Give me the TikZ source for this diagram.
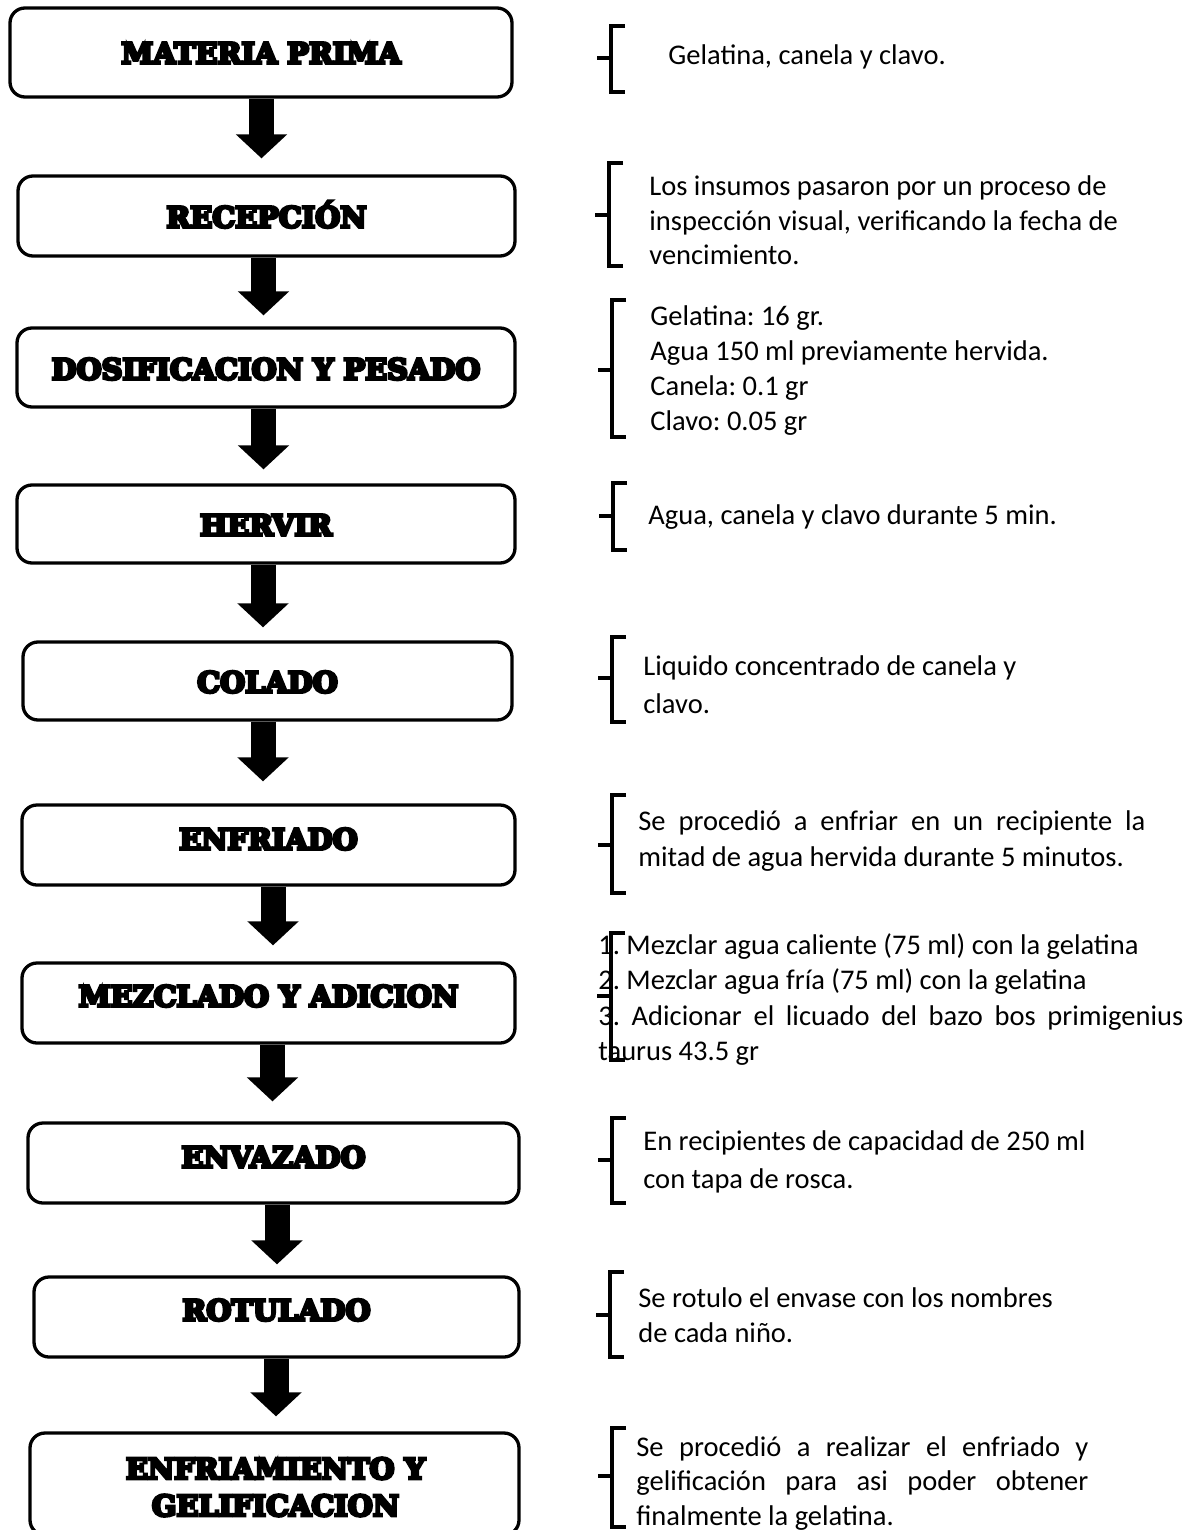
\documentclass[tikz,border=0pt]{standalone}
\usepackage{fontspec}
\setmainfont{Carlito}
\newfontfamily\stepfont{DejaVu Serif}[BoldFeatures={FakeBold=10}]
\usetikzlibrary{calc,arrows.meta}

% Coordinates are given in pixels of a 1200 x 1530 page, y growing downwards.
\tikzset{
  stepbox/.style={draw, line width=1.65pt, rounded corners=7.5pt, inner sep=0pt},
  steptitle/.style={inner sep=0pt, text height=10.5pt, text depth=0pt,
    font=\stepfont\bfseries\fontsize{14.4}{18.5}\selectfont},
  note/.style={anchor=base west, inner sep=0pt},
  brace/.style={line width=2pt, line cap=butt, line join=miter},
  flowarrow/.style={line width=12.5pt, -{Triangle[width=25pt,length=12pt]}}
}

% text block: baselineskip, lines
\newcommand\notelines[2]{\parbox[t]{300pt}{\fontsize{14.25}{#1}\selectfont\frenchspacing\raggedright #2}}
% square brace with a side tick: x, top, bottom, tick height
\newcommand\notebrace[4]{%
  \draw[brace] (#1+14,#2) -- (#1,#2) -- (#1,#3) -- (#1+14,#3);
  \draw[brace] (#1-14,#4) -- (#1,#4);}
% block arrow between two steps: upper, lower, x offset, gap above lower box
\newcommand\steparrow[4]{%
  \coordinate (s) at ($(#1.south)+(#3,0)$);
  \coordinate (e) at ($(#2.north)+(0,-#4)$);
  \draw[flowarrow] (s) -- (s |- e);}

\begin{document}
\begin{tikzpicture}[x=0.5pt,y=-0.5pt]
\fill[white] (0,0) rectangle (1200,1530);
\useasboundingbox (0,0) rectangle (1200,1530);

% process steps
\node[stepbox, minimum width=251pt, minimum height=44.5pt] (n1) at (261,52.5) {};
\node[stepbox, minimum width=248.5pt, minimum height=40pt] (n2) at (266.5,216) {};
\node[stepbox, minimum width=249pt, minimum height=39.5pt] (n3) at (266,367.5) {};
\node[stepbox, minimum width=249pt, minimum height=39pt] (n4) at (266,524) {};
\node[stepbox, minimum width=244.5pt, minimum height=39pt] (n5) at (267.5,681) {};
\node[stepbox, minimum width=246.5pt, minimum height=40pt] (n6) at (268.5,845) {};
\node[stepbox, minimum width=246.5pt, minimum height=40pt] (n7) at (268.5,1003) {};
\node[stepbox, minimum width=245.5pt, minimum height=40pt] (n8) at (273.5,1163) {};
\node[stepbox, minimum width=242.5pt, minimum height=40pt] (n9) at (276.5,1317) {};
\node[stepbox, minimum width=244.5pt, minimum height=51pt] (n10) at (274.5,1484) {};

\node[steptitle] (t1) at ($(n1.center)+(0,0.5)$) {MATERIA PRIMA};
\node[steptitle] (t2) at ($(n2.center)+(0,1)$) {RECEPCIÓN};
\node[steptitle] (t3) at ($(n3.center)+(0,1.5)$) {DOSIFICACION Y PESADO};
\node[steptitle] (t4) at ($(n4.center)+(0,1)$) {HERVIR};
\node[steptitle] (t5) at ($(n5.center)+(0,1)$) {COLADO};
\node[steptitle] (t6) at ($(n6.center)+(0,-6)$) {ENFRIADO};
\node[steptitle] (t7) at ($(n7.center)+(0,-7)$) {MEZCLADO Y ADICION};
\node[steptitle] (t8) at ($(n8.center)+(0,-6)$) {ENVAZADO};
\node[steptitle] (t9) at ($(n9.center)+(0,-7)$) {ROTULADO};
\node[steptitle, align=center, text height=, text depth=] (t10) at (275.5,1487) {ENFRIAMIENTO Y\\GELIFICACION};

% flow arrows
\steparrow{n1}{n2}{0.5}{16}
\steparrow{n2}{n3}{-3}{11}
\steparrow{n3}{n4}{-2.5}{14}
\steparrow{n4}{n5}{-3}{13}
\steparrow{n5}{n6}{-4.5}{22}
\steparrow{n6}{n7}{4.5}{16}
\steparrow{n7}{n8}{4}{20}
\steparrow{n8}{n9}{3.5}{11}
\steparrow{n9}{n10}{-0.5}{15}

% notes on each step
\notebrace{611}{26}{92}{58}
\node[note] (d1) at (668,65) {\notelines{17.5pt}{Gelatina, canela y clavo.}};

\notebrace{609}{163}{266}{215}
\node[note] (d2) at (649,196) {\notelines{17.25pt}{Los insumos pasaron por un proceso de\\
inspección visual, verificando la fecha de\\vencimiento.}};

\notebrace{612}{300}{437}{370}
\node[note] (d3) at (650,325) {\notelines{17.5pt}{Gelatina: 16 gr.\\
Agua 150 ml previamente hervida.\\Canela: 0.1 gr\\Clavo: 0.05 gr}};

\notebrace{613}{483}{550}{516}
\node[note] (d4) at (648,524) {\notelines{17.5pt}{Agua, canela y clavo durante 5 min.}};

\notebrace{612}{637}{722}{678}
\node[note] (d5) at (643,675) {\notelines{19pt}{Liquido concentrado de canela y\\clavo.}};

\notebrace{612}{795}{893}{845}
\node[note] (d6) at (638,830) {\notelines{18pt}{\makebox[253.5pt][s]{Se procedió a enfriar en un recipiente la}\\
mitad de agua hervida durante 5 minutos.}};

\notebrace{611}{933}{1060}{996}
\node[note] (d7) at (598,954) {\notelines{17.75pt}{1. Mezclar agua caliente (75 ml) con la gelatina\\
2. Mezclar agua fría (75 ml) con la gelatina\\
\makebox[292.5pt][s]{3. Adicionar el licuado del bazo bos primigenius}\\taurus 43.5 gr}};

\notebrace{612}{1118}{1203}{1160}
\node[note] (d8) at (643,1150) {\notelines{19pt}{En recipientes de capacidad de 250 ml\\con tapa de rosca.}};

\notebrace{610}{1272}{1357}{1315}
\node[note] (d9) at (638,1307) {\notelines{17.5pt}{Se rotulo el envase con los nombres\\de cada niño.}};

\notebrace{612}{1428}{1527}{1476}
\node[note] (d10) at (636,1456) {\notelines{17.25pt}{\makebox[226pt][s]{Se procedió a realizar el enfriado y}\\
\makebox[226pt][s]{gelificación para asi poder obtener}\\finalmente la gelatina.}};
\end{tikzpicture}
\end{document}
